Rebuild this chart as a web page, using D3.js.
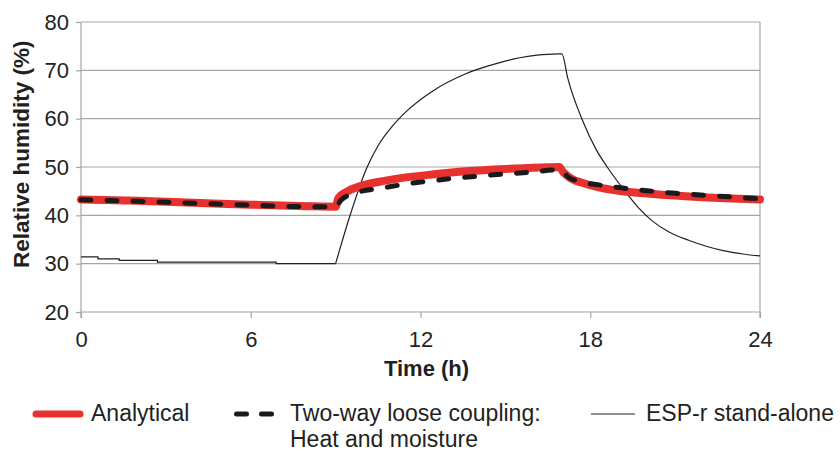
<!DOCTYPE html>
<html>
<head>
<meta charset="utf-8">
<script src="https://cdn.jsdelivr.net/npm/d3@7"></script>
<style>
  body { margin: 0; background: #fff; }
  text { font-family: "Liberation Sans", Arial, sans-serif; fill: #231f20; }
</style>
</head>
<body>
<svg width="840" height="452"></svg>
<script>
var xTicks = [0, 6, 12, 18, 24];
var yTicks = [20, 30, 40, 50, 60, 70, 80];

// time (h), relative humidity (%)
var analytical = [
  [0, 43.3], [2, 43.0], [4, 42.6], [6, 42.2], [8, 41.9], [9.0, 41.8],
  [9.1, 43.6], [9.4, 44.9], [9.9, 46.1], [10.5, 46.9], [11.3, 47.7],
  [12.5, 48.5], [13.6, 49.1], [15, 49.6], [16.3, 49.9], [16.9, 50.0],
  [17.05, 48.9], [17.3, 47.7], [17.8, 46.6], [18.3, 45.8], [19, 45.1],
  [19.8, 44.6], [21.5, 43.9], [23, 43.5], [24, 43.3]
];
var coupled = [
  [0, 43.2], [2, 42.9], [4, 42.5], [6, 42.1], [8, 41.8], [9.0, 41.8],
  [9.2, 43.2], [9.75, 44.7], [10.7, 45.7], [11.5, 46.5], [12.45, 47.2],
  [14.2, 48.2], [16, 49.0], [16.8, 49.4], [17.0, 49.3], [17.2, 48.0],
  [17.5, 47.2], [18.3, 46.3], [19.2, 45.6], [20.9, 44.6], [22.5, 44.0],
  [24, 43.4]
];
var esprSteps = [
  [0, 31.4], [0.6, 31.4], [0.6, 31.0], [1.35, 31.0], [1.35, 30.7],
  [2.7, 30.7], [2.7, 30.3], [6.9, 30.3], [6.9, 30.0], [9.0, 30.0]
];
var esprRise = [
  [9.0, 30.0], [9.5, 39.8], [10.1, 49.8], [10.5, 54.4], [11.0, 58.4],
  [11.5, 61.5], [12.45, 65.8], [13.6, 69.3], [14.8, 71.6], [15.5, 72.6],
  [16.2, 73.2], [16.9, 73.4]
];
var esprDecay = [
  [16.9, 73.4], [17.0, 73.4], [17.2, 68.5], [17.75, 59.3], [18.2, 53.7],
  [18.6, 50.0], [19.2, 45.2], [19.7, 41.6], [20.2, 38.8], [20.8, 36.5],
  [21.5, 34.8], [22.1, 33.6], [22.7, 32.7], [23.4, 32.0], [24, 31.6]
];

var svg = d3.select("svg");
var margin = { left: 81, right: 80, top: 22, bottom: 140 };
var W = 840 - margin.left - margin.right,
    H = 452 - margin.top - margin.bottom;

var x = d3.scaleLinear().domain([0, 24]).range([margin.left, margin.left + W]);
var y = d3.scaleLinear().domain([20, 80]).range([margin.top + H, margin.top]);

var grid = "#a6a6a6";

// horizontal gridlines
svg.append("g")
    .selectAll("line")
    .data(yTicks)
    .enter().append("line")
    .attr("x1", x(0)).attr("x2", x(24))
    .attr("y1", function (d) { return y(d); })
    .attr("y2", function (d) { return y(d); })
    .attr("stroke", grid)
    .attr("stroke-width", 1.2);

// right border
svg.append("line")
    .attr("x1", x(24)).attr("x2", x(24))
    .attr("y1", y(80)).attr("y2", y(20) + 6)
    .attr("stroke", grid).attr("stroke-width", 1.2);

var yAxis = svg.append("g")
    .attr("transform", "translate(" + x(0) + ",0)")
    .call(d3.axisLeft(y).tickValues(yTicks).tickSize(5).tickPadding(7).tickSizeOuter(0));
yAxis.select(".domain").attr("stroke", grid).attr("stroke-width", 1.2)
    .attr("d", "M0," + y(80) + "V" + (y(20) + 6));
yAxis.selectAll(".tick line").attr("stroke", grid).attr("stroke-width", 1.2);
yAxis.selectAll("text").style("font-size", "22px").attr("fill", "#231f20");

var xAxis = svg.append("g")
    .attr("transform", "translate(0," + y(20) + ")")
    .call(d3.axisBottom(x).tickValues(xTicks).tickSize(6).tickPadding(13).tickSizeOuter(0));
xAxis.select(".domain").remove();
xAxis.selectAll(".tick line").attr("stroke", grid).attr("stroke-width", 1.2);
xAxis.selectAll("text").style("font-size", "22px").attr("fill", "#231f20");

svg.append("text")
    .attr("transform", "translate(29,268) rotate(-90)")
    .attr("text-anchor", "start")
    .style("font-size", "22.5px").style("font-weight", "bold")
    .text("Relative humidity (%)");

svg.append("text")
    .attr("x", margin.left + W / 2 + 6).attr("y", 376)
    .attr("text-anchor", "middle")
    .style("font-size", "22px").style("font-weight", "bold")
    .text("Time (h)");

var smooth = d3.line()
    .curve(d3.curveMonotoneX)
    .x(function (d) { return x(d[0]); })
    .y(function (d) { return y(d[1]); });
var straight = d3.line()
    .x(function (d) { return x(d[0]); })
    .y(function (d) { return y(d[1]); });

var espr = svg.append("g")
    .attr("fill", "none").attr("stroke", "#231f20").attr("stroke-width", 1.2);
espr.append("path").datum(esprSteps).attr("d", straight);
espr.append("path").datum(esprRise).attr("d", smooth);
espr.append("path").datum(esprDecay).attr("d", smooth);

svg.append("path").datum(analytical)
    .attr("d", smooth).attr("fill", "none")
    .attr("stroke", "#e8312f").attr("stroke-width", 8)
    .attr("stroke-linecap", "round").attr("stroke-linejoin", "round");

svg.append("path").datum(coupled)
    .attr("d", smooth).attr("fill", "none")
    .attr("stroke", "#1a1a1a").attr("stroke-width", 5)
    .attr("stroke-dasharray", "10,16").attr("stroke-linecap", "round");

// legend
var lg = svg.append("g").style("font-size", "23px");
var ly = 414;
lg.append("line").attr("x1", 36).attr("x2", 80).attr("y1", ly).attr("y2", ly)
    .attr("stroke", "#e8312f").attr("stroke-width", 7).attr("stroke-linecap", "round");
lg.append("text").attr("x", 91).attr("y", 421).text("Analytical");
lg.append("line").attr("x1", 236.5).attr("x2", 272.5).attr("y1", ly).attr("y2", ly)
    .attr("stroke", "#1a1a1a").attr("stroke-width", 5)
    .attr("stroke-dasharray", "10,15").attr("stroke-linecap", "round");
lg.append("text").attr("x", 290).attr("y", 421).text("Two-way loose coupling:");
lg.append("text").attr("x", 290).attr("y", 447).text("Heat and moisture");
lg.append("line").attr("x1", 591).attr("x2", 635).attr("y1", ly).attr("y2", ly)
    .attr("stroke", "#231f20").attr("stroke-width", 1.2);
lg.append("text").attr("x", 646).attr("y", 421).text("ESP-r stand-alone");
</script>
</body>
</html>
